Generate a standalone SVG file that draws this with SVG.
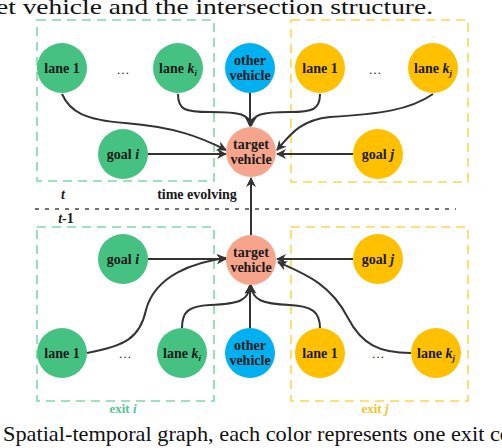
<svg xmlns="http://www.w3.org/2000/svg" width="502" height="448" viewBox="0 0 502 448">
<defs>
<marker id="ah" viewBox="0 0 10 10" refX="9" refY="5" markerWidth="5" markerHeight="5" orient="auto-start-reverse" markerUnits="strokeWidth">
<path d="M0,0 L10,5 L0,10 L3,5 z" fill="#333"/>
</marker>
<style>
.g{fill:#45c181}.y{fill:#ffc000}.b{fill:#00b0f0}.t{fill:#f6a58c}
.lbl{font-family:"Liberation Serif","Times New Roman",serif;font-weight:bold;font-size:14px;fill:#1a1a1a;text-anchor:middle}
.gb{fill:none;stroke:#7fd8a8;stroke-width:1.6;stroke-dasharray:9 6}
.yb{fill:none;stroke:#ffd550;stroke-width:1.6;stroke-dasharray:9 6}
.e{fill:none;stroke:#333;stroke-width:2;marker-end:url(#ah)}
.dots{font-family:"Liberation Serif",serif;font-size:13px;fill:#222;text-anchor:middle}
.cap{font-family:"Liberation Serif","Times New Roman",serif;font-size:21.5px;fill:#111}
</style>
</defs>
<text class="cap" x="-4" y="14" font-size="22" textLength="437" lengthAdjust="spacingAndGlyphs">et vehicle and the intersection structure.</text>
<text class="cap" x="3" y="441" textLength="508" lengthAdjust="spacingAndGlyphs">Spatial-temporal graph, each color represents one exit co</text>

<rect class="gb" x="37" y="20" width="177" height="161"/>
<rect class="yb" x="291" y="20" width="177" height="162"/>
<rect class="gb" x="37" y="227" width="177" height="174"/>
<rect class="yb" x="291" y="227" width="177" height="174"/>
<line x1="35" y1="209" x2="456" y2="209" stroke="#444" stroke-width="1.6" stroke-dasharray="4 6"/>

<text class="lbl" x="63" y="199" font-style="italic">t</text>
<text class="lbl" x="197" y="199">time evolving</text>
<text class="lbl" x="66" y="223"><tspan font-style="italic">t</tspan>-1</text>
<text class="lbl" x="123" y="413" style="fill:#4dc98a;font-size:13px">exit <tspan font-style="italic">i</tspan></text>
<text class="lbl" x="375" y="413" style="fill:#f9c31f;font-size:13px">exit <tspan font-style="italic">j</tspan></text>

<text class="dots" x="123" y="74">…</text>
<text class="dots" x="375" y="74">…</text>
<text class="dots" x="125" y="358">…</text>
<text class="dots" x="378" y="358">…</text>

<g id="connectors">
<path class="e" d="M62,94 C70,112 85,120 125,123 C175,127 200,137 226,150"/>
<path class="e" d="M178,94 C178,110 185,112 210,112 C240,112 250,114 250,126"/>
<path class="e" d="M250,93 L250,126"/>
<path class="e" d="M320,94 C320,110 312,112 290,112 C262,112 252,114 251,126"/>
<path class="e" d="M433,94 C410,110 380,114 330,117 C300,120 290,135 277,150"/>
<path class="e" d="M148,154 L226,154"/>
<path class="e" d="M353,154 L277,154"/>
<path class="e" d="M251,235 L251,178"/>
<path class="e" d="M148,259 L226,259"/>
<path class="e" d="M353,259 L277,259"/>
<path class="e" d="M87,353 C125,346 140,338 146,310 C155,275 195,262 226,258"/>
<path class="e" d="M182,328 C182,312 188,306 210,305 C240,304 249,300 250,285"/>
<path class="e" d="M250,328 L250,285"/>
<path class="e" d="M320,328 C320,312 312,306 290,305 C262,304 252,300 251,285"/>
<path class="e" d="M411,353 C380,353 362,345 348,318 C330,282 300,272 278,262"/>
</g>

<g id="lane1_i_t"><circle class="g" cx="62" cy="68" r="25"/><text class="lbl" x="62" y="73">lane 1</text></g>
<g id="lanek_i_t"><circle class="g" cx="178" cy="68" r="25"/><text class="lbl" x="178" y="73">lane <tspan font-style="italic">k<tspan font-size="9" dy="3">i</tspan></tspan></text></g>
<g id="goal_i_t"><circle class="g" cx="123" cy="154" r="25"/><text class="lbl" x="123" y="159">goal <tspan font-style="italic">i</tspan></text></g>
<g id="other_t"><circle class="b" cx="250" cy="68" r="25"/><text class="lbl" x="250" y="65">other</text><text class="lbl" x="250" y="80">vehicle</text></g>
<g id="target_t"><circle class="t" cx="251" cy="152" r="25"/><text class="lbl" x="251" y="149">target</text><text class="lbl" x="251" y="164">vehicle</text></g>
<g id="lane1_j_t"><circle class="y" cx="320" cy="68" r="25"/><text class="lbl" x="320" y="73">lane 1</text></g>
<g id="lanek_j_t"><circle class="y" cx="433" cy="68" r="25"/><text class="lbl" x="433" y="73">lane <tspan font-style="italic">k<tspan font-size="9" dy="3">j</tspan></tspan></text></g>
<g id="goal_j_t"><circle class="y" cx="378" cy="154" r="25"/><text class="lbl" x="378" y="159">goal <tspan font-style="italic">j</tspan></text></g>

<g id="goal_i_b"><circle class="g" cx="123" cy="259" r="25"/><text class="lbl" x="123" y="264">goal <tspan font-style="italic">i</tspan></text></g>
<g id="target_b"><circle class="t" cx="251" cy="260" r="25"/><text class="lbl" x="251" y="257">target</text><text class="lbl" x="251" y="272">vehicle</text></g>
<g id="goal_j_b"><circle class="y" cx="378" cy="259" r="25"/><text class="lbl" x="378" y="264">goal <tspan font-style="italic">j</tspan></text></g>
<g id="lane1_i_b"><circle class="g" cx="62" cy="353" r="25"/><text class="lbl" x="62" y="358">lane 1</text></g>
<g id="lanek_i_b"><circle class="g" cx="182" cy="353" r="25"/><text class="lbl" x="182" y="358">lane <tspan font-style="italic">k<tspan font-size="9" dy="3">i</tspan></tspan></text></g>
<g id="other_b"><circle class="b" cx="250" cy="353" r="25"/><text class="lbl" x="250" y="350">other</text><text class="lbl" x="250" y="365">vehicle</text></g>
<g id="lane1_j_b"><circle class="y" cx="320" cy="353" r="25"/><text class="lbl" x="320" y="358">lane 1</text></g>
<g id="lanek_j_b"><circle class="y" cx="436" cy="353" r="25"/><text class="lbl" x="436" y="358">lane <tspan font-style="italic">k<tspan font-size="9" dy="3">j</tspan></tspan></text></g>
</svg>
